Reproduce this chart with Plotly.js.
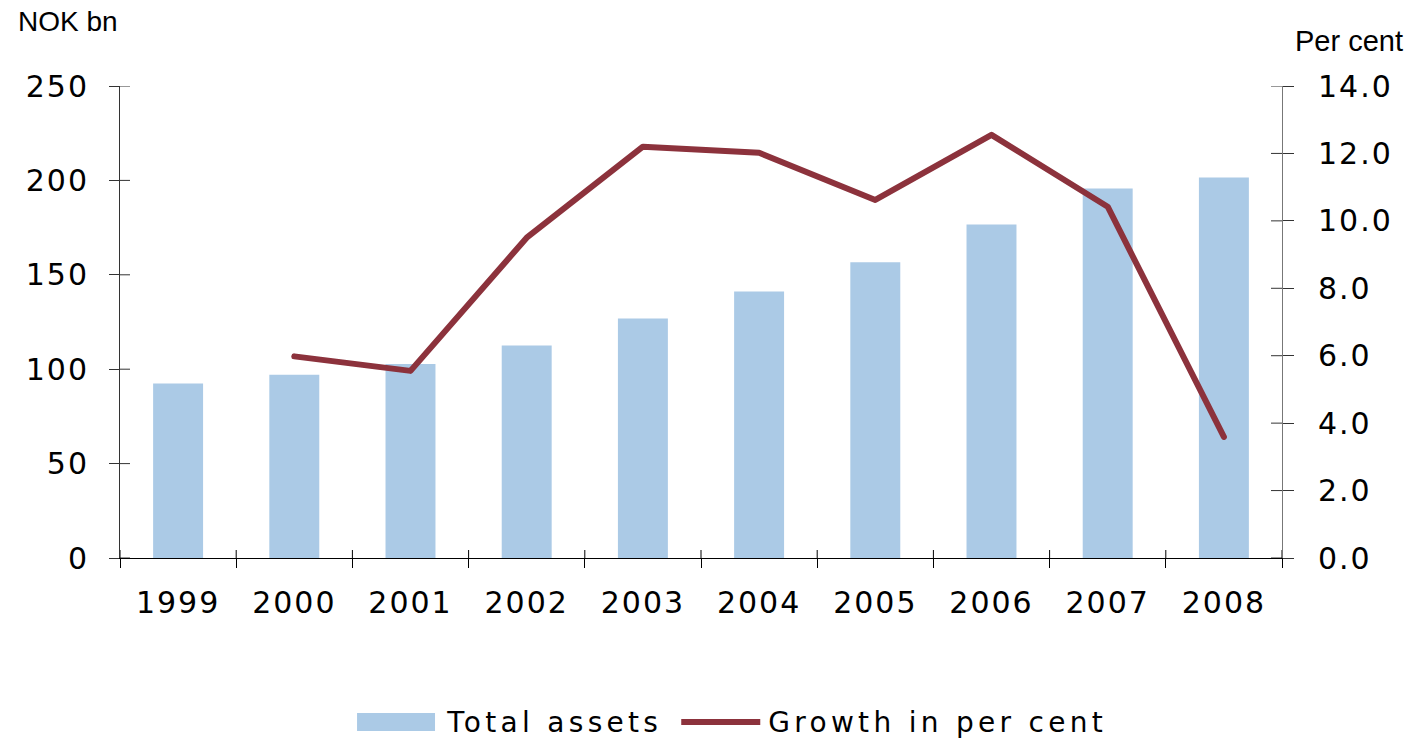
<!DOCTYPE html>
<html><head><meta charset="utf-8">
<script src="https://cdn.plot.ly/plotly-3.0.1.min.js"></script>
<style>
html,body{margin:0;padding:0;background:#fff;}
#chart{width:1411px;height:739px;}
.xtick text,.ytick text,.y2tick text{letter-spacing:2px;}
.annotation[data-index="2"] text,.annotation[data-index="3"] text{letter-spacing:4.3px;}
.scatterlayer .js-line{stroke-linecap:round;stroke-linejoin:round;}
</style></head><body><div id="chart"></div>
<script>
const years = ['1999','2000','2001','2002','2003','2004','2005','2006','2007','2008'];
const totalAssets = [92.4, 97.1, 102.8, 112.5, 126.9, 141.2, 156.6, 176.7, 195.7, 201.5];
const growthPct = [null, 5.98, 5.55, 9.50, 12.20, 12.02, 10.62, 12.55, 10.42, 3.59];
const leftTicks = [0, 50, 100, 150, 200, 250];
const rightTicks = [0, 2, 4, 6, 8, 10, 12, 14];
const rightTickText = rightTicks.map(v => v.toFixed(1));
const seriesNames = ['Total assets', 'Growth in per cent'];
const leftUnit = 'NOK bn';
const rightUnit = 'Per cent';

const barColor = '#ABCAE6';
const lineColor = '#8C323C';
const tickFont = {family: 'DejaVu Sans, Verdana, sans-serif', size: 30, color: '#000'};
const textFont = {family: 'Liberation Sans, Arial, sans-serif', size: 28, color: '#000'};
const legendFont = {family: 'DejaVu Sans, Verdana, sans-serif', size: 28, color: '#000'};

const traces = [
  {type: 'bar', x: years, y: totalAssets, name: seriesNames[0], marker: {color: barColor}, xaxis: 'x', yaxis: 'y', hoverinfo: 'x+y'},
  {type: 'scatter', mode: 'lines', x: years, y: growthPct, name: seriesNames[1], line: {color: lineColor, width: 6}, xaxis: 'x', yaxis: 'y2', connectgaps: false}
];

const shapes = [];
leftTicks.forEach(v => shapes.push({type: 'line', xref: 'paper', yref: 'y', xsizemode: 'pixel', xanchor: 0, x0: 0, x1: 10, y0: v, y1: v, line: {color: '#333', width: 1}}));
rightTicks.forEach(v => shapes.push({type: 'line', xref: 'paper', yref: 'y2', xsizemode: 'pixel', xanchor: 1, x0: -11, x1: 0, y0: v, y1: v, line: {color: '#333', width: 1}}));
for (let i = 0; i <= years.length; i++) {
  shapes.push({type: 'line', xref: 'x', yref: 'paper', ysizemode: 'pixel', yanchor: 0, y0: 0, y1: 8, x0: i - 0.5, x1: i - 0.5, line: {color: '#000', width: 1}});
}
// legend swatches
shapes.push({type: 'rect', xref: 'paper', yref: 'paper', x0: 0.2040, x1: 0.2711, y0: -0.3665, y1: -0.3284, fillcolor: barColor, line: {width: 0}});
shapes.push({type: 'line', xref: 'paper', yref: 'paper', x0: 0.4830, x1: 0.5510, y0: -0.3475, y1: -0.3475, line: {color: lineColor, width: 6}});

const annotations = [
  {text: leftUnit, xref: 'paper', yref: 'paper', x: -0.0895, y: 1.1356, xanchor: 'left', yanchor: 'middle', showarrow: false, font: textFont},
  {text: rightUnit, xref: 'paper', yref: 'paper', x: 1.0095, y: 1.0953, xanchor: 'left', yanchor: 'middle', showarrow: false, font: Object.assign({}, textFont, {size: 29})},
  {text: seriesNames[0], xref: 'paper', yref: 'paper', x: 0.3011, y: -0.3475, xanchor: 'left', yanchor: 'middle', showarrow: false, font: legendFont},
  {text: seriesNames[1], xref: 'paper', yref: 'paper', x: 0.5892, y: -0.3475, xanchor: 'left', yanchor: 'middle', showarrow: false, font: legendFont}
];

const layout = {
  width: 1411, height: 739,
  margin: {l: 120, r: 129, t: 86, b: 181, pad: 0},
  paper_bgcolor: '#fff', plot_bgcolor: '#fff',
  showlegend: false,
  bargap: 0.57,
  xaxis: {type: 'category', range: [-0.5, 9.5], showline: true, linecolor: '#000', linewidth: 1.3,
          ticks: 'outside', ticklen: 9, tickcolor: '#000', tickwidth: 1, tickson: 'boundaries',
          tickfont: tickFont, ticklabelstandoff: 18, showgrid: false, zeroline: false, fixedrange: true},
  yaxis: {range: [0, 250], tickvals: leftTicks, showline: true, linecolor: '#333', linewidth: 1,
          ticks: 'outside', ticklen: 10, tickcolor: '#333', tickfont: tickFont, ticklabelstandoff: 14,
          showgrid: false, zeroline: false, fixedrange: true},
  yaxis2: {range: [0, 14], tickvals: rightTicks, ticktext: rightTickText, overlaying: 'y', side: 'right',
          showline: true, linecolor: '#777', linewidth: 1, ticks: 'outside', ticklen: 11, tickcolor: '#333',
          tickfont: tickFont, ticklabelstandoff: 18, showgrid: false, zeroline: false, fixedrange: true},
  shapes: shapes,
  annotations: annotations
};

Plotly.newPlot('chart', traces, layout, {displayModeBar: false, staticPlot: true});
</script></body></html>
